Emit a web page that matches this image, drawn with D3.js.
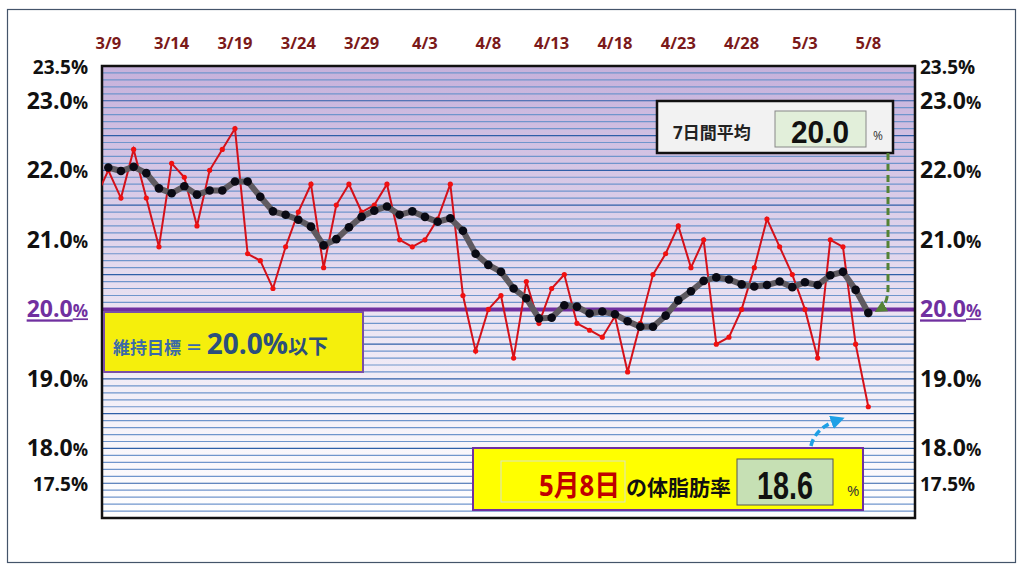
<!DOCTYPE html>
<html><head><meta charset="utf-8">
<script src="https://cdn.jsdelivr.net/npm/d3@7"></script>
<style>body{margin:0;background:#fff}svg{display:block;font-family:"Open Sans","Noto Sans CJK JP",sans-serif}</style>
</head><body><svg id="c" width="1024" height="574"></svg>
<script>
const startDate = "3/8";
const dailyValues = [21.6,22.0,21.6,22.3,21.6,20.9,22.1,21.9,21.2,22.0,22.3,22.6,20.8,20.7,20.3,20.9,21.4,21.8,20.6,21.5,21.8,21.4,21.5,21.8,21.0,20.9,21.0,21.3,21.8,20.2,19.4,20.0,20.2,19.3,20.4,19.8,20.3,20.5,19.8,19.7,19.6,19.9,19.1,19.8,20.5,20.8,21.2,20.6,21.0,19.5,19.6,20.0,20.6,21.3,20.9,20.5,20.0,19.3,21.0,20.9,19.5,18.6];
const avgValues = [null,22.04,21.99,22.05,21.96,21.74,21.67,21.77,21.65,21.71,21.71,21.84,21.84,21.62,21.41,21.36,21.29,21.19,20.92,21.01,21.18,21.33,21.42,21.48,21.36,21.41,21.33,21.26,21.31,21.13,20.80,20.64,20.54,20.30,20.16,19.87,19.88,20.06,20.04,19.94,19.97,19.93,19.83,19.75,19.75,19.91,20.13,20.26,20.41,20.46,20.43,20.36,20.33,20.35,20.40,20.32,20.39,20.35,20.49,20.54,20.28,19.95];
const xTickLabels = ["3/9","3/14","3/19","3/24","3/29","4/3","4/8","4/13","4/18","4/23","4/28","5/3","5/8"];
const yTickValues = [23.5,23.0,22.0,21.0,20.0,19.0,18.0,17.5];
const targetValue = 20.0;
const avgLatest = "20.0", latestValue = "18.6", latestDateLabel = "5月8日";

const svg = d3.select("#c");
const L=102,R=915,T=66,B=518;
const x = d3.scaleLinear().domain([1,61]).range([108.3,868.3]);
const y = d3.scaleLinear().domain([17,23.5]).range([B,T]);

svg.append("rect").attr("x",7.5).attr("y",9.5).attr("width",1008).attr("height",553).attr("fill","#fff").attr("stroke","#44546a").attr("stroke-width",1.2);
const defs=svg.append("defs");
const g=defs.append("linearGradient").attr("id","bg").attr("x1",0).attr("x2",0).attr("y1",0).attr("y2",1);
g.append("stop").attr("offset",0).attr("stop-color","#c6b1db");
g.append("stop").attr("offset",0.55).attr("stop-color","#ebe3f2");
g.append("stop").attr("offset",1).attr("stop-color","#ffffff");
defs.append("clipPath").attr("id","clip").append("rect").attr("x",L).attr("y",T).attr("width",R-L).attr("height",B-T);
svg.append("rect").attr("x",L).attr("y",T).attr("width",R-L).attr("height",B-T).attr("fill","url(#bg)");
const grid=d3.range(171,235).map(d=>d/10);
svg.append("g").selectAll("line").data(grid).join("line")
 .attr("x1",L).attr("x2",R).attr("y1",d=>y(d)).attr("y2",d=>y(d))
 .attr("stroke",d=>Math.round(d*10)%5===0?"#2f5fa8":"#6f95cc").attr("stroke-width",1.2);
svg.append("line").attr("x1",L).attr("x2",R).attr("y1",y(targetValue)).attr("y2",y(targetValue)).attr("stroke","#7030a0").attr("stroke-width",4);
svg.append("rect").attr("x",L).attr("y",T).attr("width",R-L).attr("height",B-T).attr("fill","none").attr("stroke","#111").attr("stroke-width",2.5);

svg.append("g").selectAll("text").data(xTickLabels).join("text")
 .attr("x",(d,i)=>x(1+i*5)).attr("y",49).attr("text-anchor","middle")
 .attr("fill","#7b1a1a").attr("font-weight","bold").attr("font-size",16.5).text(d=>d);
function yl(side){
 svg.append("g").selectAll("text").data(yTickValues).join("text")
 .attr("x",side==="l"?88:920).attr("y",d=>y(d)+8).attr("text-anchor",side==="l"?"end":"start")
 .attr("font-weight","bold").attr("fill",d=>d===targetValue?"#7030a0":"#111")
 .attr("text-decoration",d=>d===targetValue?"underline":null)
 .attr("font-size",d=>(d===23.5||d===17.5)?19:23)
 .each(function(d){const t=d3.select(this);t.append("tspan").text(d.toFixed(1));t.append("tspan").attr("font-size",d===23.5||d===17.5?19:17).text("%");});
}
yl("l");yl("r");

const cg=svg.append("g").attr("clip-path","url(#clip)");
const daily=dailyValues.map((v,i)=>({i,v}));
cg.append("path").datum(daily).attr("fill","none").attr("stroke","#d4111a").attr("stroke-width",2)
 .attr("d",d3.line().x(d=>x(d.i)).y(d=>y(d.v)));
cg.selectAll(".rd").data(daily.slice(1)).join("circle").attr("cx",d=>x(d.i)).attr("cy",d=>y(d.v)).attr("r",2.6).attr("fill","#f01010");
const avg=avgValues.map((v,i)=>({i,v})).filter(d=>d.v!=null);
cg.append("path").datum(avg).attr("fill","none").attr("stroke","#5f5a60").attr("stroke-width",6)
 .attr("d",d3.line().x(d=>x(d.i)).y(d=>y(d.v)));
cg.selectAll(".bd").data(avg).join("circle").attr("cx",d=>x(d.i)).attr("cy",d=>y(d.v)).attr("r",4.3).attr("fill","#0a0a14");

svg.append("rect").attr("x",104).attr("y",312).attr("width",259).attr("height",60).attr("fill","#f5ef0c").attr("stroke","#7a4fa6").attr("stroke-width",2);
const tt=svg.append("text").attr("x",113).attr("y",354).attr("fill","#3a6aa8").attr("font-weight","bold").attr("font-size",17);
tt.append("tspan").text("維持目標 ＝ ");
tt.append("tspan").attr("font-size",28).attr("fill","#2c4f7c").text("20.0%");
tt.append("tspan").attr("font-size",20).attr("fill","#2c4f7c").text("以下");

svg.append("rect").attr("x",657).attr("y",101).attr("width",236).attr("height",52).attr("fill","#f2f2f2").attr("stroke","#111").attr("stroke-width",2.5);
svg.append("text").attr("x",673).attr("y",139).attr("font-size",17).attr("font-weight","bold").attr("fill","#222").text("7日間平均");
svg.append("rect").attr("x",775).attr("y",111).attr("width",91).attr("height",36).attr("fill","#e2efda").attr("stroke","#888");
svg.append("text").attr("x",820).attr("y",143).attr("text-anchor","middle").attr("font-size",32).attr("font-weight","bold").attr("font-family","Liberation Sans, sans-serif").attr("fill","#111")
 .attr("textLength",58).attr("lengthAdjust","spacingAndGlyphs").text(avgLatest);
svg.append("text").attr("x",873).attr("y",140).attr("font-size",12).attr("fill","#333").text("%");

svg.append("rect").attr("x",473).attr("y",448).attr("width",390).attr("height",62).attr("fill","#ffff00").attr("stroke","#7030a0").attr("stroke-width",2);
svg.append("rect").attr("x",501).attr("y",461).attr("width",124).attr("height",41).attr("fill","#ffff00").attr("stroke","#d9e3c8");
svg.append("text").attr("x",620).attr("y",496).attr("text-anchor","end").attr("font-size",29).attr("font-weight","bold").attr("fill","#c00000")
 .attr("textLength",81).attr("lengthAdjust","spacingAndGlyphs").text(latestDateLabel);
svg.append("text").attr("x",626).attr("y",495).attr("font-size",21).attr("font-weight","bold").attr("fill","#111").text("の体脂肪率");
svg.append("rect").attr("x",737).attr("y",459).attr("width",96).attr("height",46).attr("fill","#c6e0b4").attr("stroke","#555");
svg.append("text").attr("x",785).attr("y",499).attr("text-anchor","middle").attr("font-size",38).attr("font-weight","bold").attr("font-family","Liberation Sans, sans-serif").attr("fill","#111")
 .attr("textLength",56).attr("lengthAdjust","spacingAndGlyphs").text(latestValue);
svg.append("text").attr("x",847).attr("y",496).attr("font-size",15).attr("fill","#333").text("%");

defs.append("marker").attr("id","ga").attr("viewBox","0 0 10 10").attr("refX",5).attr("refY",5).attr("markerWidth",4).attr("markerHeight",4).attr("orient","auto")
 .append("path").attr("d","M0,0L10,5L0,10Z").attr("fill","#548235");
defs.append("marker").attr("id","ba").attr("viewBox","0 0 10 10").attr("refX",5).attr("refY",5).attr("markerWidth",4).attr("markerHeight",4).attr("orient","auto")
 .append("path").attr("d","M0,0L10,5L0,10Z").attr("fill","#1ea0e6");
svg.append("path").attr("d","M888,153 L888,290 Q887,305 880,309").attr("fill","none").attr("stroke","#548235").attr("stroke-width",3).attr("stroke-dasharray","7,4").attr("marker-end","url(#ga)");
svg.append("path").attr("d","M811,446 Q815,428 838,420").attr("fill","none").attr("stroke","#1ea0e6").attr("stroke-width",3.5).attr("stroke-dasharray","7,4").attr("marker-end","url(#ba)");
</script></body></html>
